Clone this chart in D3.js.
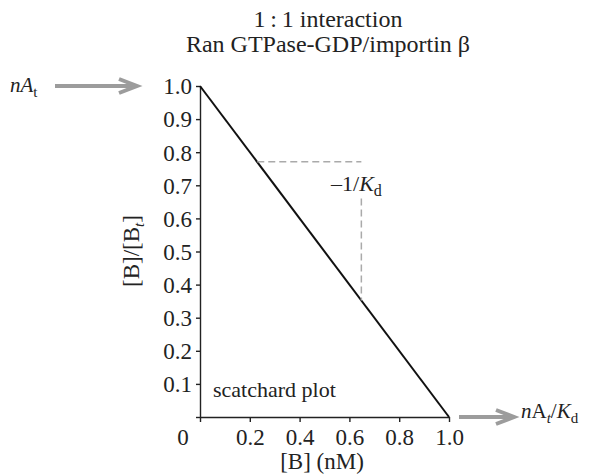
<!DOCTYPE html>
<html>
<head>
<meta charset="utf-8">
<script src="https://cdn.jsdelivr.net/npm/d3@7"></script>
<style>
  body { margin: 0; background: #fff; }
  svg text { font-family: "Liberation Serif", "DejaVu Serif", serif; fill: #222; }
  .axis path, .axis line { stroke: #222; stroke-width: 1.4; }
</style>
</head>
<body>
<svg id="chart" width="590" height="476"></svg>
<script>
// data
const lineB = [0, 1];
const lineRatio = [1, 0];
const slopeB = [0.23, 0.648, 0.648];
const slopeRatio = [0.771, 0.771, 0.352];
const xTicks = [0.2, 0.4, 0.6, 0.8, 1.0];
const yTicks = [0, 0.1, 0.2, 0.3, 0.4, 0.5, 0.6, 0.7, 0.8, 0.9, 1.0];
const titleLines = ["1\u2009:\u20091 interaction", "Ran GTPase-GDP/importin β"];

const serif = "'Liberation Serif', 'DejaVu Serif', serif";
const svg = d3.select("#chart");

const x = d3.scaleLinear().domain([0, 1]).range([200, 449]);
const y = d3.scaleLinear().domain([0, 1]).range([417, 86]);

// axes
svg.append("g")
  .attr("class", "axis")
  .attr("transform", `translate(0,${y(0)})`)
  .call(d3.axisBottom(x).tickValues([0].concat(xTicks)).tickSize(5).tickSizeOuter(0)
    .tickFormat(d => d === 0 ? "" : d3.format(".1f")(d)))
  .call(g => g.attr("font-family", serif).attr("font-size", 23))
  .call(g => g.selectAll(".tick text").attr("fill", "#222").attr("y", 28).attr("dy", 0));

svg.append("g")
  .attr("class", "axis")
  .attr("transform", `translate(${x(0)},0)`)
  .call(d3.axisLeft(y).tickValues(yTicks).tickSize(4).tickSizeOuter(0)
    .tickFormat(d => d === 0 ? "" : d3.format(".1f")(d)))
  .call(g => g.attr("font-family", serif).attr("font-size", 23))
  .call(g => g.selectAll(".tick text").attr("fill", "#222").attr("x", -8).attr("dy", "0.34em"));

// the "0" sits at the corner, left of the origin
svg.append("text")
  .attr("x", x(0) - 17).attr("y", y(0) + 28)
  .attr("text-anchor", "middle")
  .attr("font-size", 23)
  .text("0");

// main line
const pts = lineB.map((b, i) => [b, lineRatio[i]]);
svg.append("path")
  .datum(pts)
  .attr("fill", "none")
  .attr("stroke", "#111")
  .attr("stroke-width", 2)
  .attr("d", d3.line().x(d => x(d[0])).y(d => y(d[1])));

// slope triangle (dashed)
const slopePts = slopeB.map((b, i) => [b, slopeRatio[i]]);
const dash = d3.line().x(d => x(d[0])).y(d => y(d[1]));
svg.append("path")
  .datum(slopePts.slice(0, 2))
  .attr("fill", "none")
  .attr("stroke", "#aaa")
  .attr("stroke-width", 1.5)
  .attr("stroke-dasharray", "7,4")
  .attr("d", dash);

svg.append("path")
  .datum([[slopeB[2], 0.66], slopePts[2]])
  .attr("fill", "none")
  .attr("stroke", "#aaa")
  .attr("stroke-width", 1.5)
  .attr("stroke-dasharray", "7,4")
  .attr("d", dash);

const kd = svg.append("text")
  .attr("x", 331).attr("y", 191)
  .attr("font-size", 22);
kd.append("tspan").text("\u20131/");
kd.append("tspan").attr("font-style", "italic").text("K");
kd.append("tspan").attr("font-size", 16).attr("dy", 5).text("d");

// title
svg.selectAll(".title")
  .data(titleLines)
  .join("text")
  .attr("class", "title")
  .attr("x", 328)
  .attr("y", (d, i) => 27 + i * 25)
  .attr("text-anchor", "middle")
  .attr("font-size", 24)
  .text(d => d);

// axis labels
svg.append("text")
  .attr("x", 322).attr("y", 469)
  .attr("text-anchor", "middle")
  .attr("font-size", 23)
  .text("[B] (nM)");

const yl = svg.append("text")
  .attr("transform", "translate(139,251) rotate(-90)")
  .attr("text-anchor", "middle")
  .attr("font-size", 23);
yl.append("tspan").text("[B]/[B");
yl.append("tspan").attr("font-size", 15).attr("font-style", "italic").attr("dy", 5).text("t");
yl.append("tspan").attr("dy", -5).text("]");

svg.append("text")
  .attr("x", 213).attr("y", 397)
  .attr("font-size", 22)
  .text("scatchard plot");

// arrows
function arrow(x1, x2, yy) {
  svg.append("line")
    .attr("x1", x1).attr("x2", x2 - 3).attr("y1", yy).attr("y2", yy)
    .attr("stroke", "#9c9c9c").attr("stroke-width", 4);
  svg.append("path")
    .attr("d", `M${x2 - 18},${yy - 7} L${x2},${yy} L${x2 - 18},${yy + 7}`)
    .attr("fill", "none").attr("stroke", "#9c9c9c").attr("stroke-width", 4)
    .attr("stroke-linejoin", "miter");
}
arrow(55, 137, 86);
arrow(459, 514, 417);

const na = svg.append("text")
  .attr("x", 10).attr("y", 92)
  .attr("font-size", 21);
na.append("tspan").attr("font-style", "italic").text("nA");
na.append("tspan").attr("font-size", 15).attr("dy", 5).text("t");

const nak = svg.append("text")
  .attr("x", 521).attr("y", 418)
  .attr("font-size", 21);
nak.append("tspan").attr("font-style", "italic").text("n");
nak.append("tspan").text("A");
nak.append("tspan").attr("font-size", 15).attr("font-style", "italic").attr("dy", 5).text("t");
nak.append("tspan").attr("dy", -5).text("/");
nak.append("tspan").attr("font-style", "italic").text("K");
nak.append("tspan").attr("font-size", 15).attr("dy", 5).text("d");
</script>
</body>
</html>
